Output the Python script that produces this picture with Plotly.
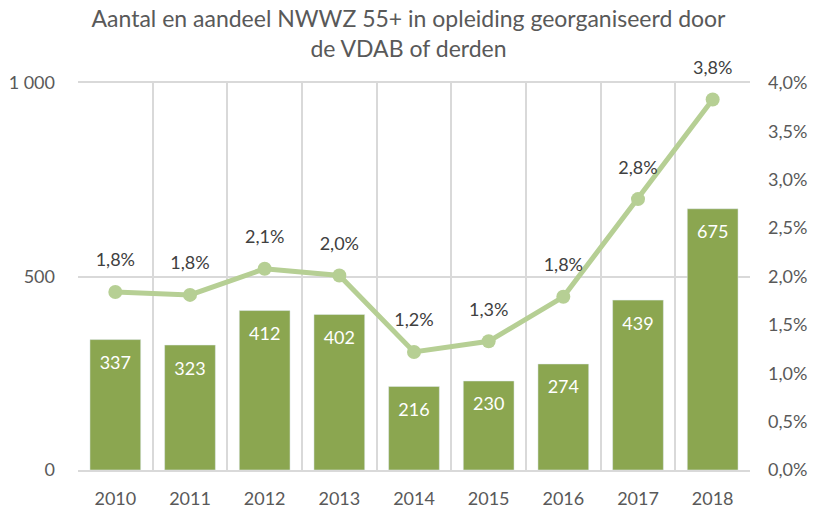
import plotly.graph_objects as go

years = ["2010", "2011", "2012", "2013", "2014", "2015", "2016", "2017", "2018"]
aantal = [337, 323, 412, 402, 216, 230, 274, 439, 675]
aandeel = [0.0184, 0.0181, 0.0208, 0.0201, 0.0122, 0.0133, 0.0179, 0.0280, 0.0383]
left_ticks = [0, 500, 1000]
right_ticks = [0.0, 0.005, 0.010, 0.015, 0.020, 0.025, 0.030, 0.035, 0.040]

FONT = "Lato, 'Open Sans', sans-serif"
BAR = "#8BA650"
LINE = "#B6CF94"
GRID = "#D9D9D9"
TXT = "#595959"

fig = go.Figure()

# bars: number of participants
fig.add_trace(go.Bar(
    x=years, y=aantal, marker_color=BAR, width=0.68,
    textposition="none", hoverinfo="skip", yaxis="y",
))
# value labels inside the bars, a little below each bar's top
fig.add_trace(go.Scatter(
    x=years, y=aantal, mode="markers+text", yaxis="y",
    marker=dict(size=24, opacity=0), texttemplate="%{y}",
    textposition="bottom center", cliponaxis=False,
    textfont=dict(color="white", size=18, family=FONT), hoverinfo="skip",
))

# line: share of the 55+ group
fig.add_trace(go.Scatter(
    x=years, y=aandeel, mode="lines+markers", yaxis="y2",
    line=dict(color=LINE, width=5), marker=dict(color=LINE, size=14),
    hoverinfo="skip", cliponaxis=False,
))
# percentage labels above the line markers
fig.add_trace(go.Scatter(
    x=years, y=aandeel, mode="markers+text", yaxis="y2",
    marker=dict(size=32, opacity=0), texttemplate="%{y:.1%}",
    textposition="top center", cliponaxis=False,
    textfont=dict(color="#404040", size=18, family=FONT), hoverinfo="skip",
))

fig.update_layout(
    width=817, height=511,
    margin=dict(l=78, r=67, t=83, b=41, autoexpand=False),
    paper_bgcolor="white", plot_bgcolor="white",
    separators=", ",
    showlegend=False,
    font=dict(family=FONT, color=TXT, size=18),
    title=dict(
        text="Aantal en aandeel NWWZ 55+ in opleiding georganiseerd door<br>de VDAB of derden",
        x=0.5, xanchor="center", y=0.947, yanchor="top",
        font=dict(size=23, color=TXT, family=FONT),
    ),
    xaxis=dict(
        type="category", range=[-0.5, len(years) - 0.5],
        tickson="boundaries", showgrid=True, gridcolor=GRID,
        gridwidth=1.5, showline=True, mirror=True, linecolor=GRID, linewidth=1.5,
        ticks="", tickfont=dict(size=18, color=TXT), ticklabelstandoff=12,
        automargin=False,
    ),
    yaxis=dict(
        range=[0, 1000], tickvals=left_ticks, tickformat=",d",
        showgrid=True, gridcolor=GRID, gridwidth=1.5, zeroline=False,
        showline=False, ticks="", tickfont=dict(size=18, color=TXT),
        ticklabelstandoff=22, automargin=False,
    ),
    yaxis2=dict(
        range=[0, 0.04], tickvals=right_ticks, tickformat=".1%",
        overlaying="y", side="right", showgrid=False, zeroline=False,
        showline=False, ticks="", tickfont=dict(size=18, color=TXT),
        ticklabelstandoff=17, automargin=False,
    ),
)

fig.write_html("out.html")
